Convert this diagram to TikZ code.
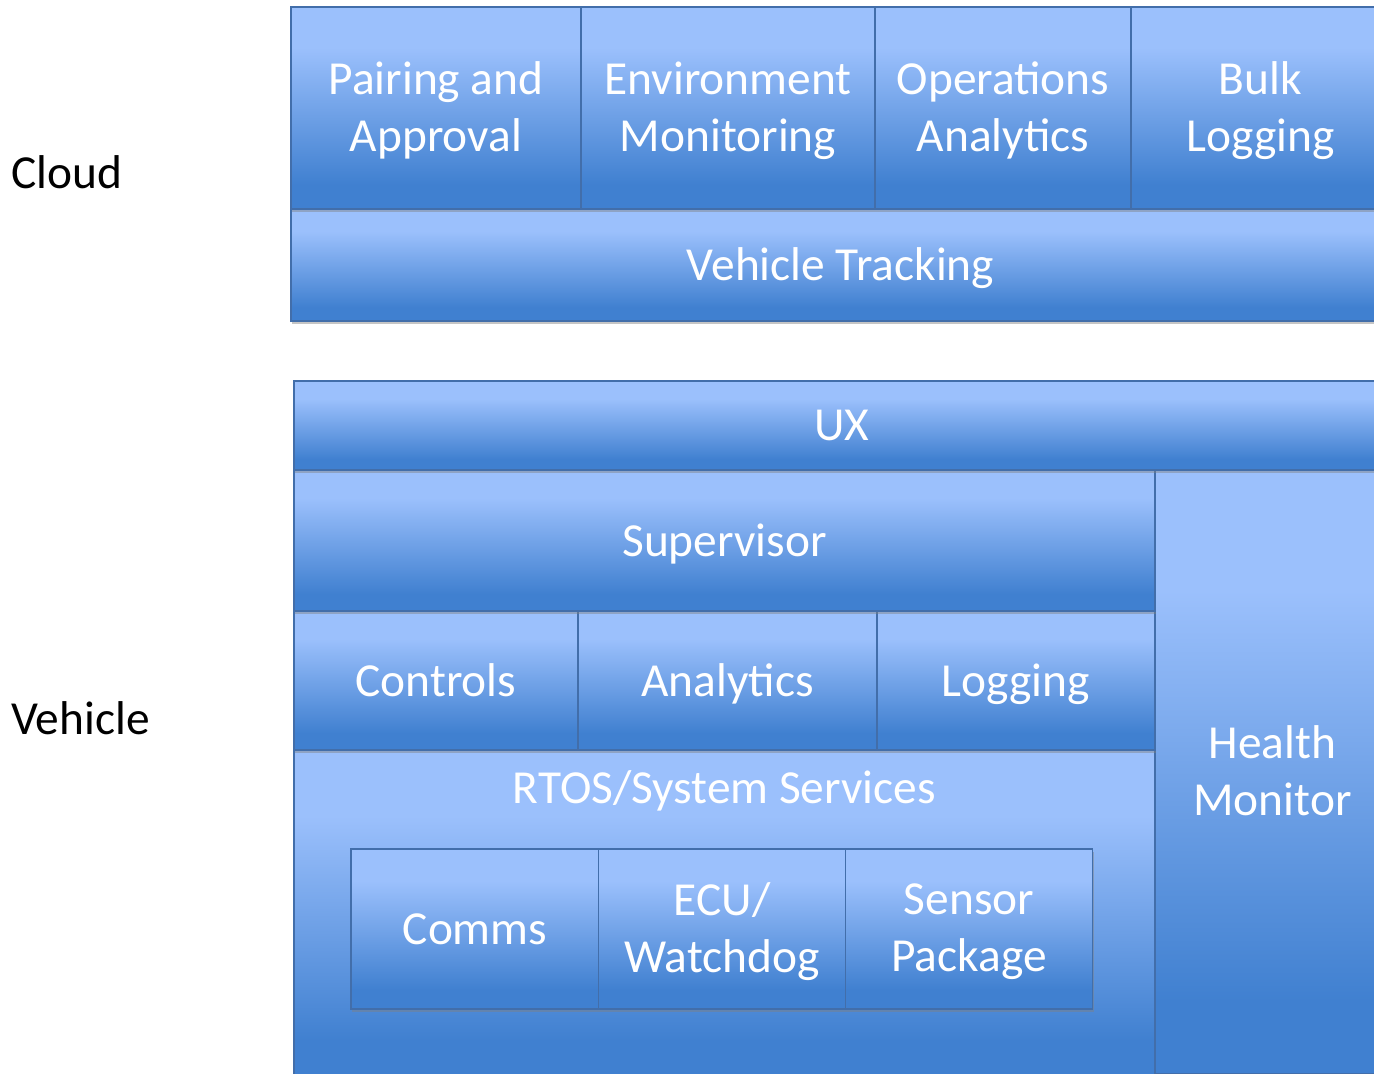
\documentclass[tikz,border=0pt]{standalone}
\usepackage{fontspec}
\newfontfamily\calfont{Carlito}
\usetikzlibrary{shadows}
\definecolor{blight}{RGB}{155,192,252}
\definecolor{bdark}{RGB}{64,128,208}
\definecolor{bedge}{RGB}{66,110,170}
\pgfdeclareverticalshading{layershade}{100bp}{color(0bp)=(bdark); color(31bp)=(bdark); color(65bp)=(blight); color(100bp)=(blight)}
\newcommand{\boxfont}{\calfont\fontsize{23.7}{28.5}\selectfont}
\tikzset{
  layer/.style={draw=bedge, line width=0.8pt, shade, shading=layershade,
    drop shadow={shadow xshift=0.6pt, shadow yshift=-1.5pt, opacity=0.45},
    text=white, font=\boxfont, align=center, inner sep=0pt, text depth=4pt,
    execute at begin node={\rule{0pt}{19.5pt}}},
  twoline/.style={layer, text depth=1pt},
  side/.style={font=\boxfont, anchor=west, inner sep=0pt},
  ltext/.style={font=\boxfont, text=white, inner sep=0pt}
}
\begin{document}
\begin{tikzpicture}[x=0.5pt, y=-0.5pt]
      \useasboundingbox (0,0) rectangle (1374,1074);
      \clip (0,0) rectangle (1374,1074);
      \fill[white] (0,0) rectangle (1374,1074);
      \node[side] (cloud) at (11,172) {Cloud};
      \node[side] (vehicle) at (11,718) {Vehicle};
      \node[layer, minimum width=549.5pt, minimum height=56pt] (track) at (840.5,265) {Vehicle Tracking};
      \foreach \nm/\cx/\bw/\txt in {pair/436/145/{Pairing and\\Approval}, env/728/147/{Environment\\Monitoring},
          ops/1003/128/{Operations\\Analytics}, bulk/1260.5/129.5/{Bulk\\Logging}} {
        \node[twoline, minimum width=\bw pt, minimum height=101pt] (\nm) at (\cx,108) {\txt};
      }
      \node[layer, minimum width=430.5pt, minimum height=165pt] (rtos) at (724.5,915) {};
      \node[ltext] (rtostxt) at (724.5,791) {RTOS/System Services};
      \node[layer, minimum width=124pt, minimum height=80pt] (comms) at (475,929) {Comms};
      \foreach \nm/\cx/\txt in {ecu/722/{ECU/\\Watchdog}, sens/969/{Sensor\\Package}} {
        \node[twoline, minimum width=123.5pt, minimum height=80pt] (\nm) at (\cx,929) {\txt};
      }
      \node[twoline, minimum width=117.5pt, minimum height=302pt] (health) at (1272.5,772) {Health\\Monitor};
      \foreach \nm/\cx/\bw/\txt in {ctrl/436/142/{Controls}, ana/727.5/149.5/{Analytics}, log/1016/139/{Logging}} {
        \node[layer, minimum width=\bw pt, minimum height=69.5pt] (\nm) at (\cx,680.5) {\txt};
      }
      \node[layer, minimum width=430.5pt, minimum height=70.5pt] (sup) at (724.5,540.5) {Supervisor};
      \node[layer, minimum width=548pt, minimum height=44.5pt] (ux) at (842,425.5) {UX};
    \end{tikzpicture}
\end{document}
